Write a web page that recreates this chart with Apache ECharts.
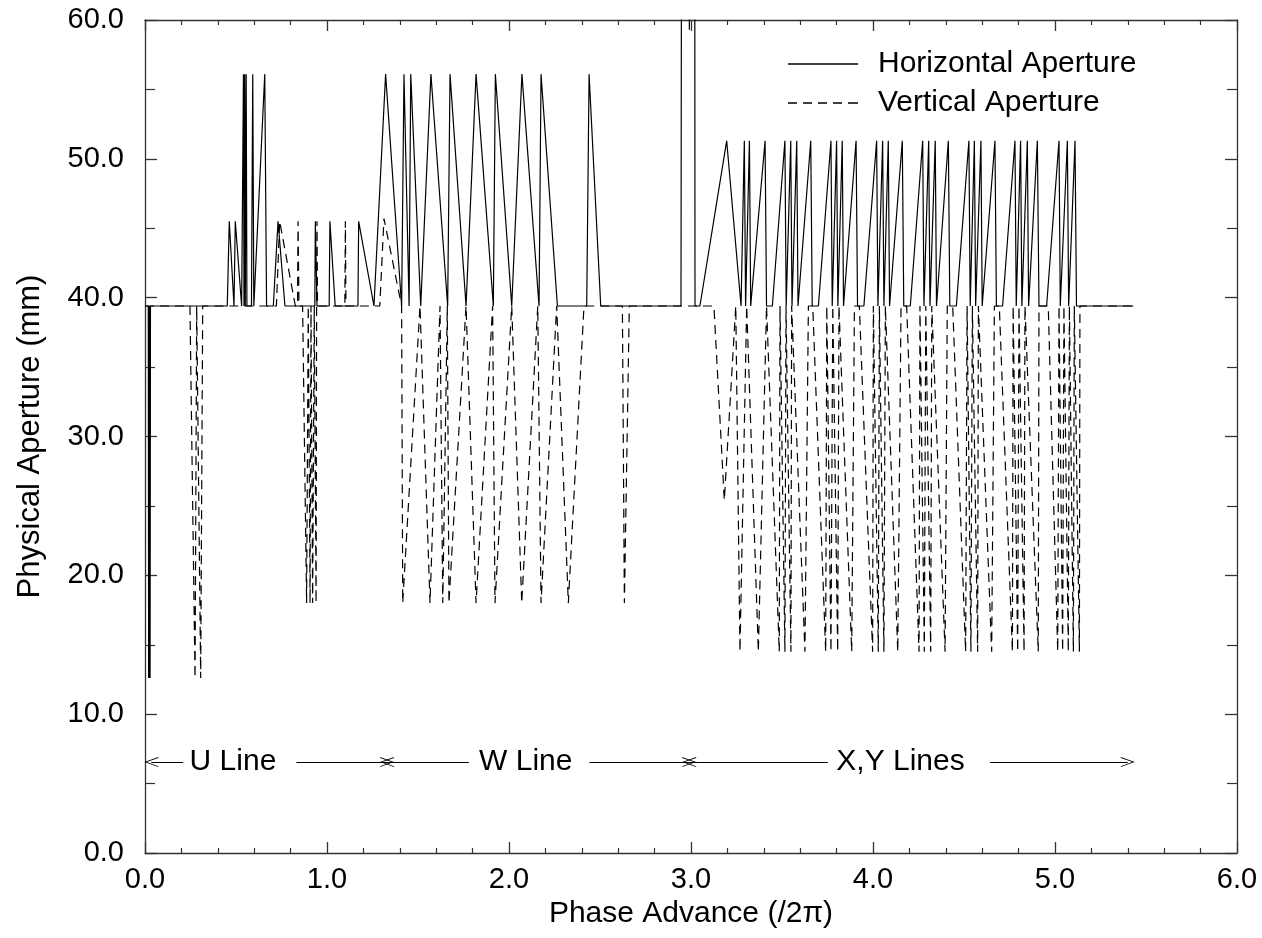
<!DOCTYPE html>
<html>
<head>
<meta charset="utf-8">
<script src="https://cdn.jsdelivr.net/npm/echarts@6/dist/echarts.min.js"></script>
<style>
html,body{margin:0;padding:0;background:#fff;}
#chart{width:1262px;height:938px;}
</style>
</head>
<body>
<div id="chart"></div>
<script>
// ---------- DATA ----------
// Horizontal aperture (solid): phase advance and aperture (mm)
var hX = [0.000,0.018,0.020,0.022,0.024,0.026,0.028,0.030,
  0.452,0.463,0.489,0.496,0.531,0.541,0.544,0.548,0.551,0.556,0.560,0.585,0.592,0.598,0.658,0.668,
  0.705,0.731,0.769,0.933,0.936,0.945,1.012,1.016,1.045,1.170,1.174,1.258,
  1.322,1.410,1.423,1.451,1.460,1.515,1.571,1.663,1.676,1.764,1.819,1.914,1.925,2.015,2.071,2.165,2.176,2.266,2.427,2.440,2.504,
  2.945,2.949,2.990,2.991,2.992,3.020,3.022,3.049,
  3.196,3.275,3.293,3.300,3.321,3.328,3.407,3.415,3.447,
  3.516,3.523,3.548,3.555,3.581,3.588,3.658,3.666,3.700,
  3.769,3.776,3.800,3.807,3.831,3.838,3.907,3.915,3.950,
  4.020,4.027,4.053,4.060,4.084,4.091,4.161,4.169,4.205,
  4.273,4.280,4.306,4.313,4.342,4.349,4.414,4.422,4.458,
  4.527,4.534,4.557,4.564,4.593,4.600,4.670,4.678,4.712,
  4.780,4.787,4.811,4.818,4.848,4.855,4.903,4.912,4.954,
  5.022,5.029,5.068,5.075,5.110,5.118,5.430];
var hY = [39.4,39.4,12.6,39.4,12.6,39.4,12.6,39.4,
  39.4,45.5,39.4,45.5,39.4,56.1,39.4,56.1,39.4,56.1,39.4,39.4,56.1,39.4,56.1,39.4,
  39.4,45.5,39.4,39.4,45.5,39.4,39.4,45.5,39.4,39.4,45.5,39.4,
  56.1,39.4,56.1,39.4,56.1,39.4,56.1,39.4,56.1,39.4,56.1,39.4,56.1,39.4,56.1,39.4,56.1,39.4,39.4,56.1,39.4,
  39.4,80.0,80.0,59.3,80.0,80.0,39.4,39.4,
  51.3,39.4,51.3,39.4,51.3,39.4,51.3,39.4,39.4,
  51.3,39.4,51.3,39.4,51.3,39.4,51.3,39.4,39.4,
  51.3,39.4,51.3,39.4,51.3,39.4,51.3,39.4,39.4,
  51.3,39.4,51.3,39.4,51.3,39.4,51.3,39.4,39.4,
  51.3,39.4,51.3,39.4,51.3,39.4,51.3,39.4,39.4,
  51.3,39.4,51.3,39.4,51.3,39.4,51.3,39.4,39.4,
  51.3,39.4,51.3,39.4,51.3,39.4,51.3,39.4,39.4,
  51.3,39.4,51.3,39.4,51.3,39.4,39.4];

// Vertical aperture (dashed)
var vX = [0.000,0.247,0.275,0.284,0.306,0.317,
  0.722,0.740,0.826,0.838,0.841,0.846,0.866,0.888,0.897,0.907,0.912,0.921,0.930,0.940,0.943,0.945,0.948,
  1.098,1.101,1.104,1.290,1.313,1.410,
  1.416,1.511,1.566,1.621,1.636,1.661,1.670,1.764,1.819,1.910,1.923,2.015,2.070,2.158,2.176,2.262,2.326,2.412,2.623,2.634,2.661,
  3.126,3.183,3.246,3.269,3.306,3.370,3.415,
  3.485,3.489,3.516,3.522,3.549,3.553,3.626,3.645,3.669,
  3.740,3.746,3.769,3.779,3.806,3.813,3.883,3.898,3.925,
  3.998,4.002,4.029,4.035,4.060,4.068,4.136,4.154,4.185,
  4.253,4.258,4.282,4.290,4.317,4.323,4.396,4.408,4.438,
  4.509,4.517,4.538,4.546,4.575,4.579,4.652,4.667,4.694,
  4.766,4.770,4.795,4.802,4.830,4.835,4.908,4.912,4.963,
  5.015,5.022,5.042,5.049,5.073,5.079,5.101,5.106,5.134,5.137,5.450];
var vY = [39.4,39.4,12.6,39.4,12.6,39.4,
  39.4,45.5,39.4,39.4,45.5,39.4,39.4,18.0,39.4,18.0,39.4,18.0,39.4,18.0,39.4,45.5,39.4,
  39.4,45.5,39.4,39.4,45.7,39.4,
  18.0,39.4,18.0,39.4,18.0,39.4,18.0,39.4,18.0,39.4,18.0,39.4,18.0,39.4,18.0,39.4,18.0,39.4,39.4,18.0,39.4,
  39.4,25.4,39.4,14.5,39.4,14.5,39.4,
  14.5,39.4,14.5,39.4,14.5,39.4,14.5,39.4,39.4,
  14.5,39.4,14.5,39.4,14.5,39.4,14.5,39.4,39.4,
  14.5,39.4,14.5,39.4,14.5,39.4,14.5,39.4,39.4,
  14.5,39.4,14.5,39.4,14.5,39.4,14.5,39.4,39.4,
  14.5,39.4,14.5,39.4,14.5,39.4,14.5,39.4,39.4,
  14.5,39.4,14.5,39.4,14.5,39.4,14.5,39.4,39.4,
  14.5,39.4,14.5,39.4,14.5,39.4,14.5,39.4,14.5,39.4,39.4];

// Section annotations (phase advance, aperture level)
var sectionNames = ['U Line', 'W Line', 'X,Y Lines'];
var sectionLabelX = [0.486, 2.095, 4.154];
var sectionBounds = [0.035, 1.33, 2.99, 5.40];
var sectionGaps = [[0.21, 0.832], [1.779, 2.442], [3.752, 4.643]];
var annotY = 6.55;

// ---------- BUILD ----------
function zip(xs, ys){ var o=[]; for(var i=0;i<xs.length;i++) o.push([xs[i], ys[i]]); return o; }
var arrowPath = 'path://M0,10 L5,0 L10,10 L9.1,10 L5,1.8 L0.9,10 Z';
var segs = [];
for (var s=0; s<3; s++){
  segs.push([{coord:[sectionBounds[s], annotY], symbol: arrowPath}, {coord:[sectionGaps[s][0], annotY], symbol:'none'}]);
  segs.push([{coord:[sectionGaps[s][1], annotY], symbol:'none'}, {coord:[sectionBounds[s+1], annotY], symbol: arrowPath}]);
}
var labelData = sectionNames.map(function(n,i){ return {value:[sectionLabelX[i], annotY], name:n}; });

var FONT = '"Liberation Sans", Arial, Helvetica, sans-serif';
var AX = {color:'#333', width:1.3};
var fmt = function(v){ return v.toFixed(1); };
var solidIcon = 'path://M0,0 L70,0 L70,1.3 L0,1.3 Z';
var dashIcon = 'path://M0,0 h9 v1.3 h-9 Z M15,0 h9 v1.3 h-9 Z M30,0 h9 v1.3 h-9 Z M45,0 h9 v1.3 h-9 Z M60,0 h10 v1.3 h-10 Z';

var chart = echarts.init(document.getElementById('chart'), null, {renderer:'canvas'});
chart.setOption({
  animation:false,
  backgroundColor:'#fff',
  textStyle:{fontFamily:FONT, color:'#000'},
  grid:{left:145, right:25, top:20, bottom:85, containLabel:false},
  legend:{
    data:[{name:'Horizontal Aperture', icon:solidIcon},{name:'Vertical Aperture', icon:dashIcon}],
    orient:'vertical', left:783, top:44,
    itemWidth:70, itemHeight:14, itemGap:9,
    itemStyle:{color:'#000'},
    textStyle:{fontFamily:FONT, fontSize:30, color:'#000', padding:[0,0,0,15], lineHeight:30},
    selectedMode:false
  },
  xAxis:[{
    type:'value', min:0, max:6, interval:1,
    name:'Phase Advance (/2\u03c0)', nameLocation:'middle', nameGap:46,
    nameTextStyle:{fontFamily:FONT, fontSize:30, color:'#000'},
    axisLine:{show:true, onZero:false, lineStyle:AX},
    axisTick:{show:true, inside:true, length:11, lineStyle:AX},
    minorTick:{show:true, splitNumber:5, length:5, lineStyle:{color:'#333', width:1.2}},
    axisLabel:{formatter:fmt, fontFamily:FONT, fontSize:29, color:'#000', margin:12},
    splitLine:{show:false}, minorSplitLine:{show:false}
  },{
    type:'value', min:0, max:6, interval:1, position:'top',
    axisLine:{show:true, onZero:false, lineStyle:AX},
    axisTick:{show:true, inside:true, length:11, lineStyle:AX},
    minorTick:{show:true, splitNumber:5, length:5, lineStyle:{color:'#333', width:1.2}},
    axisLabel:{show:false}, splitLine:{show:false}
  }],
  yAxis:[{
    type:'value', min:0, max:60, interval:10,
    name:'Physical Aperture (mm)', nameLocation:'middle', nameGap:99,
    nameTextStyle:{fontFamily:FONT, fontSize:31, color:'#000'},
    axisLine:{show:true, onZero:false, lineStyle:AX},
    axisTick:{show:true, inside:true, length:12, lineStyle:AX},
    minorTick:{show:true, splitNumber:2, length:10, lineStyle:{color:'#333', width:1.2}},
    axisLabel:{formatter:fmt, fontFamily:FONT, fontSize:29, color:'#000', margin:21},
    splitLine:{show:false}, minorSplitLine:{show:false}
  },{
    type:'value', min:0, max:60, interval:10, position:'right',
    axisLine:{show:true, onZero:false, lineStyle:AX},
    axisTick:{show:true, inside:true, length:12, lineStyle:AX},
    minorTick:{show:true, splitNumber:2, length:10, lineStyle:{color:'#333', width:1.2}},
    axisLabel:{show:false}, splitLine:{show:false}
  }],
  series:[
    {
      name:'Horizontal Aperture', type:'line', data:zip(hX,hY),
      showSymbol:false, symbol:'none', clip:true,
      lineStyle:{color:'#000', width:1.2, type:'solid'},
      itemStyle:{color:'#000'},
      markLine:{
        silent:true, animation:false,
        symbolSize:[10,14],
        lineStyle:{color:'#000', width:1.1, type:'solid'},
        label:{show:false},
        data:segs
      }
    },
    {
      name:'Vertical Aperture', type:'line', data:zip(vX,vY),
      showSymbol:false, symbol:'none', clip:true,
      lineStyle:{color:'#000', width:1.2, type:[9,6]},
      itemStyle:{color:'#000'}
    },
    {
      name:'sections', type:'scatter', data:labelData,
      symbolSize:1, itemStyle:{color:'rgba(0,0,0,0)', opacity:1}, silent:true,
      label:{show:true, position:[0,0], align:'center', verticalAlign:'middle', formatter:'{b}',
             fontFamily:FONT, fontSize:30, color:'#000'}
    }
  ]
});
</script>
</body>
</html>
